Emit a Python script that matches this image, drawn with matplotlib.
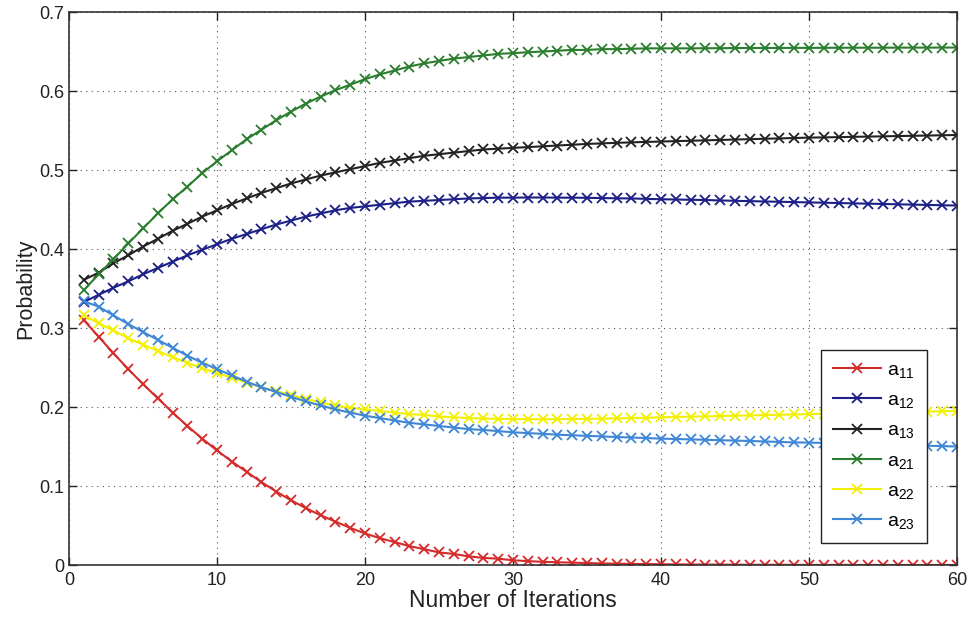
import numpy as np
import matplotlib
matplotlib.use('Agg')
import matplotlib.pyplot as plt

plt.rcParams['font.family'] = ['Liberation Sans', 'DejaVu Sans']
plt.rcParams['mathtext.default'] = 'regular'

iterations = np.arange(1, 61)

a11 = [0.310, 0.289, 0.268, 0.248, 0.229, 0.211, 0.193, 0.176, 0.160, 0.145,
       0.131, 0.118, 0.105, 0.093, 0.082, 0.072, 0.063, 0.055, 0.047, 0.040,
       0.034, 0.029, 0.024, 0.020, 0.016, 0.014, 0.011, 0.009, 0.008, 0.006,
       0.005, 0.004, 0.0035, 0.003, 0.0025, 0.002, 0.0017, 0.0014, 0.0012, 0.001,
       0.0008, 0.0007, 0.0006, 0.0005, 0.0004, 0.0003, 0.0003, 0.0003, 0.0002, 0.0002,
       0.0002, 0.0002, 0.0001, 0.0001, 0.0001, 0.0001, 0.0001, 0.0001, 0.0001, 0.0001]

a12 = [0.333, 0.342, 0.351, 0.359, 0.368, 0.376, 0.384, 0.392, 0.399, 0.406,
       0.413, 0.419, 0.425, 0.431, 0.436, 0.441, 0.445, 0.449, 0.452, 0.454,
       0.456, 0.458, 0.460, 0.461, 0.462, 0.463, 0.464, 0.4645, 0.465, 0.465,
       0.4652, 0.4652, 0.465, 0.465, 0.4648, 0.4645, 0.4642, 0.464, 0.4635, 0.463,
       0.4627, 0.4623, 0.462, 0.4615, 0.461, 0.4606, 0.4602, 0.4598, 0.4594, 0.459,
       0.4586, 0.4582, 0.4578, 0.4574, 0.457, 0.4566, 0.4562, 0.4558, 0.4554, 0.455]

a13 = [0.361, 0.370, 0.382, 0.392, 0.403, 0.413, 0.423, 0.432, 0.441, 0.449,
       0.457, 0.464, 0.471, 0.477, 0.483, 0.488, 0.493, 0.497, 0.501, 0.505,
       0.509, 0.512, 0.515, 0.518, 0.520, 0.522, 0.524, 0.526, 0.527, 0.528,
       0.529, 0.530, 0.531, 0.532, 0.533, 0.5337, 0.5344, 0.535, 0.5356, 0.536,
       0.5366, 0.537, 0.5376, 0.538, 0.5386, 0.539, 0.5396, 0.540, 0.5405, 0.541,
       0.5413, 0.5416, 0.542, 0.5423, 0.5426, 0.543, 0.5433, 0.5436, 0.544, 0.5443]

a21 = [0.348, 0.368, 0.387, 0.407, 0.426, 0.445, 0.463, 0.479, 0.496, 0.511,
       0.525, 0.539, 0.551, 0.563, 0.574, 0.584, 0.593, 0.601, 0.608, 0.615,
       0.621, 0.626, 0.631, 0.635, 0.638, 0.641, 0.643, 0.645, 0.647, 0.648,
       0.649, 0.650, 0.651, 0.652, 0.652, 0.653, 0.653, 0.6535, 0.654, 0.654,
       0.654, 0.654, 0.6542, 0.6542, 0.6544, 0.6544, 0.6545, 0.6545, 0.6546, 0.6546,
       0.6547, 0.6547, 0.6548, 0.6548, 0.6548, 0.6549, 0.6549, 0.6549, 0.655, 0.655]

a22 = [0.316, 0.306, 0.297, 0.287, 0.279, 0.271, 0.263, 0.256, 0.249, 0.243,
       0.237, 0.231, 0.225, 0.220, 0.215, 0.210, 0.206, 0.202, 0.199, 0.197,
       0.195, 0.193, 0.191, 0.190, 0.188, 0.187, 0.186, 0.1855, 0.185, 0.1848,
       0.1846, 0.1845, 0.1846, 0.1848, 0.185, 0.1853, 0.1856, 0.186, 0.1864, 0.187,
       0.1874, 0.1878, 0.1882, 0.1886, 0.189, 0.1894, 0.1898, 0.1902, 0.1906, 0.191,
       0.1914, 0.1918, 0.1922, 0.1926, 0.193, 0.1934, 0.1938, 0.1942, 0.1946, 0.195]

a23 = [0.334, 0.327, 0.316, 0.305, 0.295, 0.285, 0.275, 0.265, 0.256, 0.248,
       0.240, 0.232, 0.225, 0.219, 0.213, 0.207, 0.202, 0.197, 0.193, 0.189,
       0.186, 0.183, 0.180, 0.178, 0.176, 0.174, 0.172, 0.171, 0.1695, 0.168,
       0.167, 0.166, 0.165, 0.1642, 0.1635, 0.1628, 0.162, 0.1614, 0.1607, 0.160,
       0.1595, 0.159, 0.1585, 0.158, 0.1575, 0.157, 0.1564, 0.1558, 0.1552, 0.155,
       0.1545, 0.154, 0.1535, 0.153, 0.1525, 0.152, 0.1515, 0.151, 0.1505, 0.150]

series = [('$a_{11}$', a11, '#d42a2a'),
          ('$a_{12}$', a12, '#1c1f86'),
          ('$a_{13}$', a13, '#222222'),
          ('$a_{21}$', a21, '#2a7d2e'),
          ('$a_{22}$', a22, '#f2f000'),
          ('$a_{23}$', a23, '#3f86d6')]

fig = plt.figure(figsize=(9.68, 6.19), dpi=100)
ax = fig.add_axes([0.0713, 0.0872, 0.9173, 0.8934])

for label, vals, col in series:
    ax.plot(iterations, vals, color=col, marker='x', markersize=6.5,
            markeredgewidth=1.3, linewidth=1.5, label=label)

ax.set_xlim(0, 60)
ax.set_ylim(0, 0.7)
ax.set_xticks(np.arange(0, 61, 10))
ax.set_yticks(np.arange(0, 0.71, 0.1))
ax.set_yticklabels(['0', '0.1', '0.2', '0.3', '0.4', '0.5', '0.6', '0.7'])
ax.grid(True, linestyle=(0, (1, 4)), color='#555555', linewidth=0.8)
ax.tick_params(direction='in', top=True, right=True, labelsize=13,
               length=6, width=1, colors='#222222')
ax.tick_params(axis='x', pad=5)
for sp in ax.spines.values():
    sp.set_linewidth(1.2)
    sp.set_color('#333333')

ax.set_xlabel('Number of Iterations', fontsize=16.5, labelpad=0, color='#222222')
ax.set_ylabel('Probability', fontsize=15.5, labelpad=2, color='#222222')

leg = ax.legend(loc='lower right', bbox_to_anchor=(0.966, 0.04), borderaxespad=0,
                fancybox=False, edgecolor='#222222', fontsize=14,
                handlelength=2.45, handletextpad=0.35, labelspacing=0.6,
                borderpad=0.6, framealpha=1)
leg.get_frame().set_linewidth(1.0)

fig.savefig('out.png', dpi=100)
